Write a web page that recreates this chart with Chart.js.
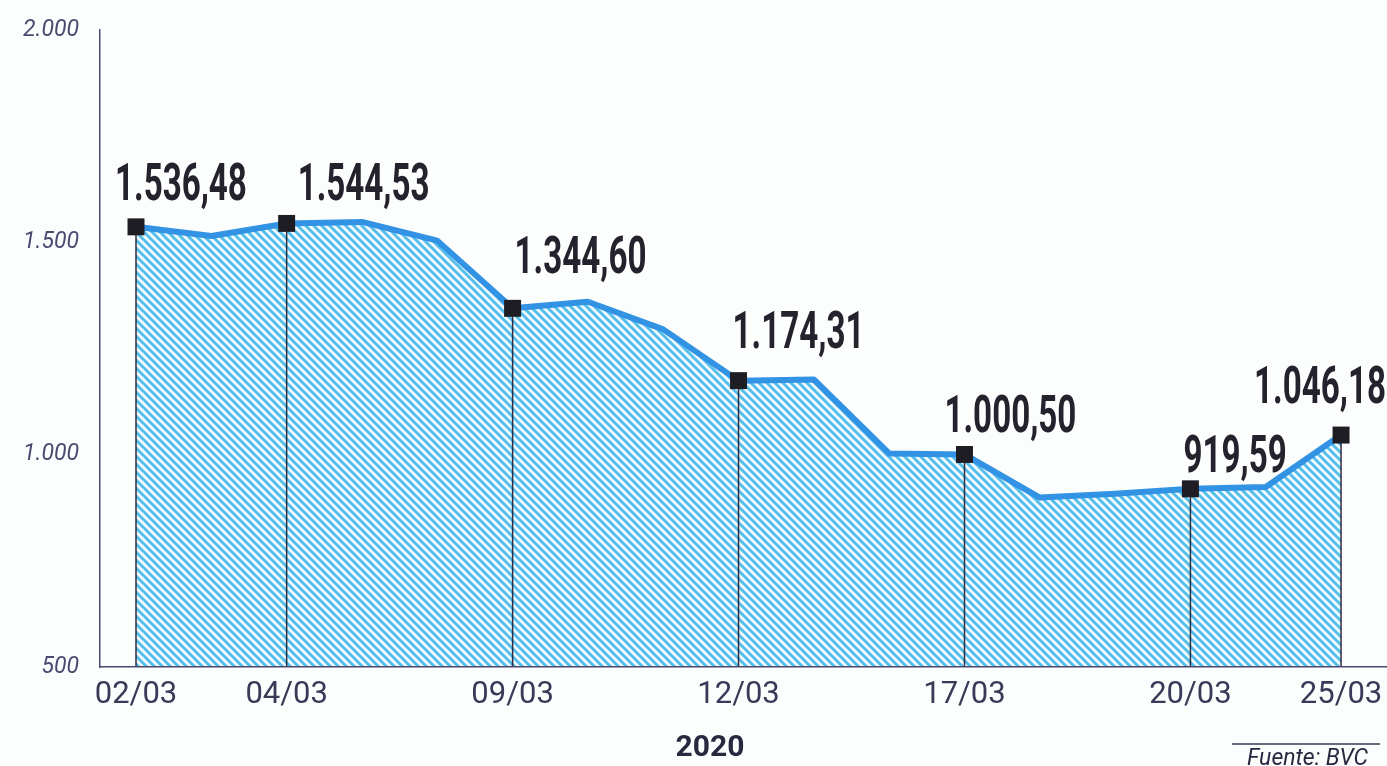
<!DOCTYPE html>
<html>
<head>
<meta charset="utf-8">
<script src="https://cdn.jsdelivr.net/npm/chart.js@4.4.1/dist/chart.umd.min.js"></script>
<style>
html,body{margin:0;padding:0;background:#fcfefe;}
canvas{display:block;}
</style>
</head>
<body>
<canvas id="c" width="1387" height="766"></canvas>
<script>
// ---- data ----
const dates = ['02/03','03/03','04/03','05/03','06/03','09/03','10/03','11/03','12/03','13/03','16/03','17/03','18/03','19/03','20/03','24/03','25/03'];
const values = [1536.48,1515,1544.53,1548,1504,1344.60,1360,1295,1174.31,1177,1003,1000.50,899,908,919.59,924,1046.18];
const tickDates = ['02/03','04/03','09/03','12/03','17/03','20/03','25/03'];
const yTicks = [500,1000,1500,2000];
const yearLabel = '2020';
const sourceLabel = 'Fuente: BVC';

function group(s){ return s.replace(/\B(?=(\d{3})+(?!\d))/g,'.'); }
function fmt(v){ const p = v.toFixed(2).split('.'); return group(p[0]) + ',' + p[1]; }

const tickIdx = tickDates.map(d => dates.indexOf(d));

// ---- hatch pattern ----
const P = 8;
const tile = document.createElement('canvas');
tile.width = P; tile.height = P;
const tc = tile.getContext('2d');
tc.fillStyle = '#f4fbfe'; tc.fillRect(0,0,P,P);
tc.strokeStyle = '#55bfea'; tc.lineWidth = 3;
for (let k=-2;k<=2;k++){ tc.beginPath(); tc.moveTo(k*P - P, -P); tc.lineTo(k*P + 2*P, 2*P); tc.stroke(); }

const ctx = document.getElementById('c').getContext('2d');
const pattern = ctx.createPattern(tile,'repeat');

// label placement: [dx of text start from point, rise of baseline above point]
const labelNudges = [[-21,27],[11,23],[2,35],[-6,33],[-20,22],[-7,17],[-87,32]];

const annot = {
  id:'annot',
  afterDatasetsDraw(chart){
    const c = chart.ctx, meta = chart.getDatasetMeta(0), area = chart.chartArea;
    c.save();
    c.strokeStyle = '#2d2b3f'; c.lineWidth = 1.5;
    tickIdx.forEach(i => {
      const pt = meta.data[i];
      c.beginPath(); c.moveTo(pt.x, pt.y + 8); c.lineTo(pt.x, area.bottom); c.stroke();
    });
    c.fillStyle = '#24222c';
    c.font = 'bold 51px Roboto';
    c.textAlign = 'left'; c.textBaseline = 'alphabetic';
    tickIdx.forEach((i,j) => {
      const pt = meta.data[i];
      const n = labelNudges[j];
      c.save();
      c.translate(pt.x + n[0], pt.y - n[1]);
      c.scale(0.65, 1);
      c.fillText(fmt(values[i]), 0, 0);
      c.restore();
    });
    c.restore();
  },
  afterDraw(chart){
    const c = chart.ctx;
    c.save();
    c.fillStyle = '#2a2840';
    c.font = 'bold 30px Roboto';
    c.textAlign = 'center'; c.textBaseline = 'middle';
    c.fillText(yearLabel, 710, 748);
    c.strokeStyle = '#3a3850'; c.lineWidth = 1.5;
    c.beginPath(); c.moveTo(1232, 744); c.lineTo(1380, 744); c.stroke();
    c.font = 'italic 23px Roboto';
    c.textAlign = 'left'; c.textBaseline = 'alphabetic';
    c.fillText(sourceLabel, 1247, 765);
    c.restore();
  }
};

new Chart(ctx, {
  type:'line',
  data:{
    datasets:[{
      data: values.map((v,i) => ({x:i, y:v})),
      borderColor:'#3293e4',
      borderWidth:6,
      borderJoinStyle:'round',
      borderCapStyle:'round',
      backgroundColor: pattern,
      fill:'start',
      tension:0,
      pointStyle:'rect',
      pointRadius: c => tickIdx.includes(c.dataIndex) ? 12 : 0,
      pointHoverRadius: c => tickIdx.includes(c.dataIndex) ? 12 : 0,
      pointBackgroundColor:'#1e1d24',
      pointBorderWidth:0
    }]
  },
  options:{
    responsive:false,
    animation:false,
    events:[],
    layout:{autoPadding:false, padding:{top:30,left:0,right:0,bottom:0}},
    plugins:{legend:{display:false}, tooltip:{enabled:false}},
    scales:{
      x:{
        type:'linear', min:-0.478, max:16.61,
        grid:{display:false, drawTicks:false},
        border:{display:true, color:'#4d4870', width:1.5, z:1},
        afterBuildTicks: s => { s.ticks = tickIdx.map(v => ({value:v})); },
        ticks:{ callback: v => dates[v], autoSkip:false, maxRotation:0, padding:10, color:'#3b3858', font:{family:'Roboto', size:31} },
        afterFit: s => { s.height = 99; s.paddingLeft = 0; s.paddingRight = 0; }
      },
      y:{
        min:500, max:2000,
        grid:{display:false, drawTicks:false},
        border:{display:true, color:'#4d4870', width:1.5},
        afterBuildTicks: s => { s.ticks = yTicks.map(v => ({value:v})); },
        ticks:{ callback: v => group(String(v)), padding:21, color:'#4d4870', font:{family:'Roboto', size:23, style:'italic'} },
        afterFit: s => { s.width = 100; s.paddingTop = 0; s.paddingBottom = 0; }
      }
    }
  },
  plugins:[annot]
});
</script>
</body>
</html>
